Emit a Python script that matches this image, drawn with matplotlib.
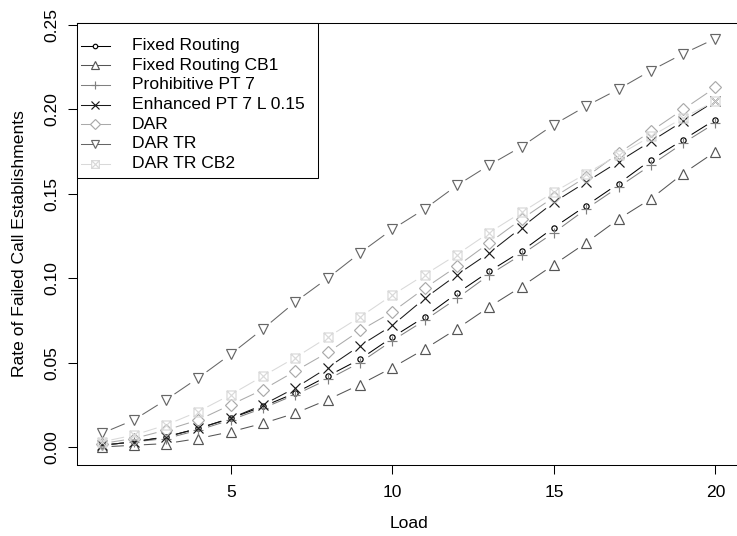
import numpy as np
import matplotlib
matplotlib.use("Agg")
import matplotlib.pyplot as plt
from matplotlib.path import Path
from matplotlib.patches import Rectangle

plt.rcParams['font.family'] = ['Liberation Sans', 'DejaVu Sans']

load = list(range(1, 21))

fixed_routing = [0.001, 0.003, 0.006, 0.011, 0.017, 0.024, 0.032, 0.042, 0.052, 0.065,
                 0.077, 0.091, 0.104, 0.116, 0.130, 0.143, 0.156, 0.170, 0.182, 0.194]
fixed_routing_cb1 = [0.000, 0.001, 0.002, 0.005, 0.009, 0.014, 0.020, 0.028, 0.037, 0.047,
                     0.058, 0.070, 0.083, 0.095, 0.108, 0.121, 0.135, 0.147, 0.162, 0.175]
prohibitive_pt7 = [0.001, 0.003, 0.005, 0.010, 0.016, 0.023, 0.031, 0.040, 0.050, 0.063,
                   0.075, 0.088, 0.102, 0.114, 0.127, 0.141, 0.154, 0.167, 0.180, 0.192]
enhanced_pt7 = [0.001, 0.003, 0.006, 0.011, 0.017, 0.025, 0.035, 0.047, 0.060, 0.072,
                0.088, 0.102, 0.115, 0.130, 0.145, 0.157, 0.169, 0.181, 0.193, 0.205]
dar = [0.002, 0.005, 0.010, 0.016, 0.025, 0.034, 0.045, 0.056, 0.069, 0.080,
       0.094, 0.107, 0.121, 0.135, 0.148, 0.160, 0.174, 0.187, 0.200, 0.213]
dar_tr = [0.008, 0.016, 0.028, 0.041, 0.055, 0.070, 0.086, 0.100, 0.115, 0.129,
          0.141, 0.155, 0.167, 0.178, 0.191, 0.202, 0.212, 0.223, 0.233, 0.242]
dar_tr_cb2 = [0.003, 0.007, 0.013, 0.021, 0.031, 0.042, 0.053, 0.065, 0.077, 0.090,
              0.102, 0.114, 0.127, 0.139, 0.151, 0.162, 0.173, 0.184, 0.195, 0.205]

labels = ["Fixed Routing", "Fixed Routing CB1", "Prohibitive PT 7",
          "Enhanced PT 7 L 0.15", "DAR", "DAR TR", "DAR TR CB2"]
series = [fixed_routing, fixed_routing_cb1, prohibitive_pt7, enhanced_pt7,
          dar, dar_tr, dar_tr_cb2]
colors = ["#000000", "#555555", "#808080", "#1a1a1a", "#aaaaaa", "#666666", "#d9d9d9"]

box_x = Path([(-1, -1), (1, -1), (1, 1), (-1, 1), (-1, -1),
              (-1, -1), (1, 1), (-1, 1), (1, -1)],
             [Path.MOVETO, Path.LINETO, Path.LINETO, Path.LINETO, Path.CLOSEPOLY,
              Path.MOVETO, Path.LINETO, Path.MOVETO, Path.LINETO])
markers = ['o', '^', '+', 'x', 'D', 'v', box_x]
msizes = [3.8, 7.6, 7.5, 6.5, 6.0, 7.6, 6.5]

FS = 12.6
LW = 0.75
W, H = 737, 536
fig = plt.figure(figsize=(W / 100, H / 100), dpi=100)
ax = fig.add_axes([77 / W, (536 - 464.5) / H, 663 / W, 442 / H])
ax.set_xlim(0.24, 20.76)
ax.set_ylim(-0.0104, 0.2515)

GAP = 10.0
for ys, c, m, ms in zip(series, colors, markers, msizes):
    pts = ax.transData.transform(np.column_stack([load, ys]))
    inv = ax.transData.inverted()
    for i in range(len(pts) - 1):
        p0, p1 = pts[i], pts[i + 1]
        d = p1 - p0
        L = np.hypot(*d)
        if L <= 2 * GAP:
            continue
        u = d / L
        seg = inv.transform(np.array([p0 + u * GAP, p1 - u * GAP]))
        ax.plot(seg[:, 0], seg[:, 1], color=c, lw=LW, solid_capstyle='butt')
    ax.plot(load, ys, linestyle='none', marker=m, markersize=ms, color=c,
            markerfacecolor='none', markeredgecolor=c, markeredgewidth=0.85)

ax.set_xticks([5, 10, 15, 20])
ax.set_yticks([0.00, 0.05, 0.10, 0.15, 0.20, 0.25])
ax.set_yticklabels(["0.00", "0.05", "0.10", "0.15", "0.20", "0.25"])
ax.tick_params(axis='x', direction='out', length=6.5, width=LW, labelsize=FS, pad=8)
ax.tick_params(axis='y', direction='out', length=6.5, width=LW, labelsize=FS, pad=6)
plt.setp(ax.get_yticklabels(), rotation=90, va='center')
for s in ax.spines.values():
    s.set_linewidth(LW)
ax.spines['right'].set_visible(False)
ax.set_xlabel("Load", fontsize=FS, labelpad=12)
ax.set_ylabel("Rate of Failed Call Establishments", fontsize=FS, labelpad=13)

# legend (R style, top-left, boxed)
lg = fig.add_axes([0, 0, 1, 1], zorder=5)
lg.set_xlim(0, W)
lg.set_ylim(H, 0)
lg.axis('off')
lg.add_patch(Rectangle((77, 22.5), 241, 155.5, facecolor='white', edgecolor='black', lw=LW))
for i, (lab, c, m, ms) in enumerate(zip(labels, colors, markers, msizes)):
    yy = 45.5 + 19.7 * i
    lg.plot([81, 110], [yy, yy], color=c, lw=LW)
    lg.plot([95.5], [yy], linestyle='none', marker=m, markersize=ms * 0.85, color=c,
            markerfacecolor='white', markeredgecolor=c, markeredgewidth=0.85)
    lg.text(132, yy, lab, fontsize=FS, va='center', ha='left')

fig.savefig("out.png", dpi=100)
